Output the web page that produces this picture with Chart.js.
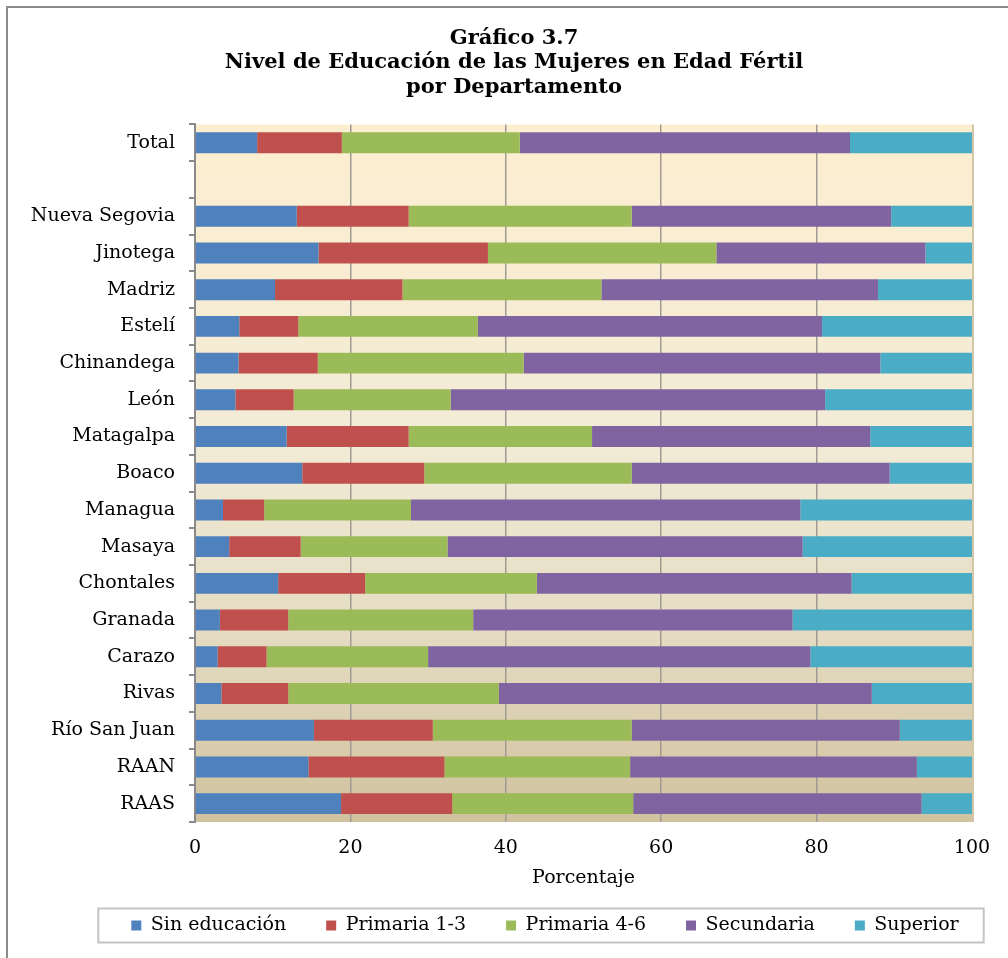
<!DOCTYPE html>
<html>
<head>
<meta charset="utf-8">
<script src="https://cdn.jsdelivr.net/npm/chart.js@4.4.1/dist/chart.umd.min.js"></script>
<style>
    body { margin: 0; background: #fff; overflow: hidden; }
    #frame { position: absolute; left: 6px; top: 6px; width: 1100px; height: 1100px; border: 2px solid #8c8c8c; }
    #wrap { position: absolute; left: 0; top: 0; width: 1008px; height: 958px; }
</style>
</head>
<body>
<div id="frame"></div>
<div id="wrap"><canvas id="chart" width="1008" height="958"></canvas></div>
<script>
"use strict";

const categories = ['Total', '', 'Nueva Segovia', 'Jinotega', 'Madriz', 'Estelí', 'Chinandega', 'León',
    'Matagalpa', 'Boaco', 'Managua', 'Masaya', 'Chontales', 'Granada', 'Carazo', 'Rivas',
    'Río San Juan', 'RAAN', 'RAAS'];

const sinEducacion = [8.0, null, 13.1, 15.9, 10.3, 5.7, 5.6, 5.2, 11.8, 13.8, 3.6, 4.4, 10.7, 3.2, 2.9, 3.4, 15.3, 14.6, 18.8];
const primaria13 = [10.9, null, 14.4, 21.8, 16.4, 7.6, 10.2, 7.5, 15.7, 15.7, 5.3, 9.2, 11.2, 8.8, 6.3, 8.6, 15.3, 17.5, 14.3];
const primaria46 = [22.9, null, 28.7, 29.4, 25.6, 23.1, 26.5, 20.2, 23.6, 26.7, 18.9, 18.9, 22.1, 23.8, 20.8, 27.1, 25.6, 23.9, 23.3];
const secundaria = [42.5, null, 33.4, 26.9, 35.6, 44.3, 45.9, 48.2, 35.8, 33.2, 50.1, 45.7, 40.5, 41.1, 49.2, 48.0, 34.5, 36.9, 37.1];
const superior = [15.7, null, 10.4, 6.0, 12.1, 19.3, 11.8, 18.9, 13.1, 10.6, 22.1, 21.8, 15.5, 23.1, 20.8, 12.9, 9.3, 7.1, 6.5];

const xTicks = [0, 20, 40, 60, 80, 100];

const serif = "'DejaVu Serif', serif";

// fondo degradado del area de trazado
const plotBackground = {
    id: 'plotBackground',
    beforeDraw(chart) {
        const { ctx, chartArea: a } = chart;
        const g = ctx.createLinearGradient(0, a.top, 0, a.bottom);
        g.addColorStop(0, '#fdeed0');
        g.addColorStop(0.45, '#f2ebd6');
        g.addColorStop(0.72, '#e5dcc3');
        g.addColorStop(1, '#d0c29e');
        ctx.save();
        ctx.fillStyle = g;
        ctx.fillRect(a.left, a.top, a.right - a.left, a.bottom - a.top);
        ctx.strokeStyle = '#d2c7a6';
        ctx.lineWidth = 2;
        ctx.beginPath();
        ctx.moveTo(a.right + 1, a.top);
        ctx.lineTo(a.right + 1, a.bottom);
        ctx.stroke();
        ctx.restore();
    }
};

// corre titulo y leyenda hacia la derecha, como en el original
const shiftBlocks = {
    id: 'shiftBlocks',
    afterLayout(chart) {
        chart.titleBlock.left += 23;
        chart.titleBlock.right += 23;
        chart.legend.left += 54;
        chart.legend.right += 54;
    }
};

// recuadro de la leyenda
const legendBox = {
    id: 'legendBox',
    afterDraw(chart) {
        const boxes = chart.legend.legendHitBoxes;
        if (!boxes.length) return;
        const left = Math.min(...boxes.map(b => b.left)) - 33;
        const right = Math.max(...boxes.map(b => b.left + b.width)) + 25;
        const mid = boxes[0].top + boxes[0].height / 2;
        const ctx = chart.ctx;
        ctx.save();
        ctx.strokeStyle = '#c4c4c4';
        ctx.lineWidth = 2;
        ctx.strokeRect(left, mid - 17, right - left, 34);
        ctx.restore();
    }
};

const colors = ['#4f81bd', '#c0504d', '#9bbb59', '#8064a2', '#4bacc6'];
const names = ['Sin educación', 'Primaria 1-3', 'Primaria 4-6', 'Secundaria', 'Superior'];
const series = [sinEducacion, primaria13, primaria46, secundaria, superior];

const ctx = document.getElementById('chart').getContext('2d');
new Chart(ctx, {
    type: 'bar',
    data: {
        labels: categories,
        datasets: series.map((s, i) => ({
            label: names[i],
            data: s,
            backgroundColor: colors[i],
            borderWidth: 0,
            barPercentage: 0.57,
            categoryPercentage: 1
        }))
    },
    options: {
        indexAxis: 'y',
        responsive: false,
        animation: false,
        layout: { padding: { left: 10, right: 36, top: 10, bottom: 13 } },
        plugins: {
            title: {
                display: true,
                text: ['Gráfico 3.7', 'Nivel de Educación de las Mujeres en Edad Fértil', 'por Departamento'],
                color: '#000',
                font: { family: serif, size: 21, weight: 'bold', lineHeight: 1.166 },
                padding: { top: 16, bottom: 25 }
            },
            legend: {
                position: 'bottom',
                labels: {
                    color: '#000',
                    font: { family: serif, size: 19 },
                    boxWidth: 10,
                    boxHeight: 10,
                    padding: 40
                }
            },
            tooltip: { enabled: false }
        },
        scales: {
            x: {
                stacked: true,
                min: 0,
                max: 100,
                afterBuildTicks: (scale) => { scale.ticks = xTicks.map(v => ({ value: v })); },
                afterFit: (scale) => { scale.height = 54; },
                border: { display: false },
                grid: {
                    drawTicks: false,
                    lineWidth: 1.5,
                    color: (c) => (c.tick && (c.tick.value === 0 || c.tick.value === 100)) ? 'rgba(0,0,0,0)' : '#9f9b94'
                },
                ticks: { color: '#000', padding: 15, font: { family: serif, size: 19 } },
                title: {
                    display: true,
                    text: 'Porcentaje',
                    color: '#000',
                    font: { family: serif, size: 19 },
                    padding: { top: 0, bottom: -13 }
                }
            },
            y: {
                stacked: true,
                afterFit: (scale) => { scale.width = 185; },
                border: { display: true, color: '#8a8a8a', width: 2 },
                grid: {
                    offset: true,
                    drawOnChartArea: false,
                    drawTicks: true,
                    tickLength: 6,
                    color: '#8a8a8a',
                    lineWidth: 2
                },
                ticks: { color: '#000', padding: 14, font: { family: serif, size: 19 } }
            }
        }
    },
    plugins: [plotBackground, shiftBlocks, legendBox]
});
</script>
</body>
</html>
